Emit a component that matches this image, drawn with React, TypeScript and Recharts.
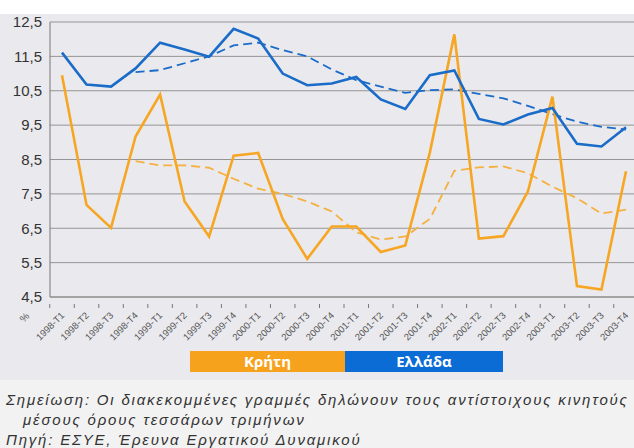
import React from 'react';
import { LineChart, Line, XAxis, YAxis, CartesianGrid } from 'recharts';

const categories = [
  '1998-T1', '1998-T2', '1998-T3', '1998-T4',
  '1999-T1', '1999-T2', '1999-T3', '1999-T4',
  '2000-T1', '2000-T2', '2000-T3', '2000-T4',
  '2001-T1', '2001-T2', '2001-T3', '2001-T4',
  '2002-T1', '2002-T2', '2002-T3', '2002-T4',
  '2003-T1', '2003-T2', '2003-T3', '2003-T4',
];

const kritiValues = [10.95, 7.18, 6.51, 9.17, 10.39, 7.28, 6.26, 8.61, 8.69, 6.77, 5.61, 6.55, 6.55, 5.81, 6.0, 8.7, 12.14, 6.2, 6.27, 7.57, 10.33, 4.82, 4.72, 8.16];
const kritiMA = [null, null, null, 8.45, 8.33, 8.33, 8.26, 7.94, 7.65, 7.5, 7.28, 6.99, 6.38, 6.17, 6.26, 6.77, 8.17, 8.27, 8.3, 8.1, 7.71, 7.37, 6.93, 7.04];
const elladaValues = [11.61, 10.68, 10.62, 11.15, 11.9, 11.7, 11.49, 12.3, 12.02, 11.0, 10.66, 10.71, 10.9, 10.25, 9.97, 10.95, 11.09, 9.68, 9.52, 9.81, 10.0, 8.96, 8.88, 9.44];
const elladaMA = [null, null, null, 11.04, 11.1, 11.3, 11.5, 11.82, 11.9, 11.68, 11.5, 11.12, 10.81, 10.62, 10.44, 10.52, 10.54, 10.41, 10.28, 10.06, 9.82, 9.6, 9.45, 9.37];

const yTicks = [4.5, 5.5, 6.5, 7.5, 8.5, 9.5, 10.5, 11.5, 12.5];

const legendItems = ['Κρήτη', 'Ελλάδα'];
const noteLine1 = 'Σημείωση: Οι διακεκομμένες γραμμές δηλώνουν τους αντίστοιχους κινητούς';
const noteLine2 = 'μέσους όρους τεσσάρων τριμήνων';
const noteLine3 = 'Πηγή: ΕΣΥΕ, Έρευνα Εργατικού Δυναμικού';

const ORANGE = '#f6a623';
const BLUE = '#1a6cc8';

const data = categories.map((c, i) => ({
  cat: c,
  kriti: kritiValues[i],
  kritiMA: kritiMA[i],
  ellada: elladaValues[i],
  elladaMA: elladaMA[i],
}));

const XTick = (props: any) => {
  const { x, y, payload } = props;
  const half = 12.25;
  return (
    <g>
      <line x1={x - half} y1={y - 1} x2={x - half} y2={y + 3} stroke="#777" strokeWidth={1} />
      <text
        x={x + 3}
        y={y + 11}
        textAnchor="end"
        fontSize={9.5}
        fill="#555"
        fontFamily="Liberation Sans, Arial, sans-serif"
        transform={`rotate(-45 ${x + 3} ${y + 11})`}
      >
        {payload.value}
      </text>
    </g>
  );
};

export default function App() {
  return (
    <div
      style={{
        position: 'absolute',
        left: 0,
        top: 0,
        width: 634,
        height: 448,
        overflow: 'hidden',
        background: '#ffffff',
      }}
    >
      <div style={{ position: 'absolute', left: 0, top: 14, width: 634, height: 366, background: '#eaeaee' }} />
      <div style={{ position: 'absolute', left: 0, top: 380, width: 634, height: 68, background: '#f2f2f2' }} />
      <div style={{ position: 'absolute', left: 0, top: 0 }}>
        <LineChart
          width={650}
          height={347}
          data={data}
          margin={{ top: 22, right: 12, left: 0, bottom: 0 }}
        >
          <CartesianGrid vertical={false} stroke="#959595" strokeWidth={1} />
          <XAxis
            dataKey="cat"
            height={50}
            interval={0}
            padding={{ left: 12, right: 12 }}
            tick={<XTick />}
            tickLine={false}
            axisLine={{ stroke: '#888' }}
          />
          <YAxis
            width={50}
            domain={[4.5, 12.5]}
            ticks={yTicks}
            tickLine={false}
            axisLine={{ stroke: '#777' }}
            tick={{ fontSize: 15, fill: '#333', fontFamily: 'Liberation Sans, Arial, sans-serif' }}
            tickFormatter={(v: number) => v.toFixed(1).replace('.', ',')}
          />
          <Line type="linear" dataKey="kritiMA" stroke="#f5b040" strokeWidth={1.8} strokeDasharray="9 5" dot={false} isAnimationActive={false} />
          <Line type="linear" dataKey="elladaMA" stroke={BLUE} strokeWidth={1.8} strokeDasharray="9 5" dot={false} isAnimationActive={false} />
          <Line type="linear" dataKey="kriti" stroke={ORANGE} strokeWidth={2.6} dot={false} isAnimationActive={false} />
          <Line type="linear" dataKey="ellada" stroke={BLUE} strokeWidth={2.6} dot={false} isAnimationActive={false} />
        </LineChart>
      </div>
      <span
        style={{
          position: 'absolute',
          left: 20,
          top: 312,
          fontSize: 10,
          color: '#555',
          fontFamily: 'Liberation Sans, Arial, sans-serif',
          transform: 'rotate(-45deg)',
        }}
      >
        %
      </span>
      {legendItems.map((label, i) => (
        <div
          key={label}
          style={{
            position: 'absolute',
            left: i === 0 ? 190 : 345,
            top: 351,
            width: i === 0 ? 155 : 158,
            height: 21,
            background: i === 0 ? '#f7a21c' : '#0b6cd6',
            color: '#ffffff',
            fontFamily: 'Open Sans, sans-serif',
            fontWeight: 700,
            fontSize: 15,
            lineHeight: '21px',
            textAlign: 'center',
          }}
        >
          {label}
        </div>
      ))}
      <div
        style={{
          position: 'absolute',
          left: 6,
          top: 390,
          fontFamily: 'Liberation Sans, Arial, sans-serif',
          fontStyle: 'italic',
          fontSize: 15,
          color: '#333',
          lineHeight: '20px',
          whiteSpace: 'nowrap',
          letterSpacing: 1.8,
        }}
      >
        <div>{noteLine1}</div>
        <div style={{ paddingLeft: 17 }}>{noteLine2}</div>
        <div>{noteLine3}</div>
      </div>
    </div>
  );
}
